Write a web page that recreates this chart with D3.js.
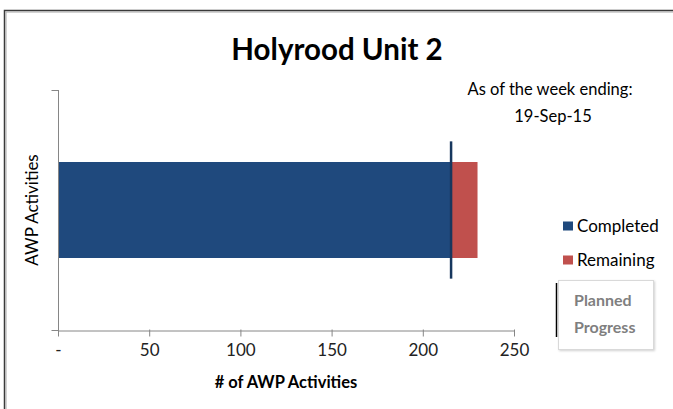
<!DOCTYPE html>
<html>
<head>
<meta charset="utf-8">
<script src="https://cdn.jsdelivr.net/npm/d3@7.9.0/dist/d3.min.js"></script>
<style>
  body { margin: 0; background: #fff; }
  svg { display: block; font-family: Lato, "Open Sans", sans-serif; }
</style>
</head>
<body>
<script>
// Chart values
const categories = ["AWP Activities"];
const completed = [216];
const remaining = [14];
const planned = [215.5];
const xTicks = [0, 50, 100, 150, 200, 250];
const seriesNames = ["Completed", "Remaining"];
const seriesColors = ["#1F497D", "#C0504D"];
const titleText = "Holyrood Unit 2";
const weekLabel = "As of the week ending:";
const weekDate = "19-Sep-15";

const width = 673, height = 409;
const margin = { top: 90, right: 159, bottom: 79, left: 58 };

const svg = d3.select("body").append("svg")
  .attr("width", width)
  .attr("height", height);

// Outer frame
svg.append("rect")
  .attr("x", 4.5).attr("y", 10.5)
  .attr("width", 720).attr("height", 450)
  .attr("fill", "#fff")
  .attr("stroke", "#3a3a3a").attr("stroke-width", 1.5);
svg.append("path")
  .attr("d", "M6,460V12H720")
  .attr("fill", "none")
  .attr("stroke", "#a6a6a6").attr("stroke-width", 1);

const x = d3.scaleLinear()
  .domain([0, 250])
  .range([margin.left, width - margin.right]);

const y = d3.scaleBand()
  .domain(categories)
  .range([margin.top, height - margin.bottom])
  .paddingInner(0)
  .paddingOuter(0.75);

// Title
svg.append("text")
  .attr("x", 337).attr("y", 60)
  .attr("text-anchor", "middle")
  .attr("font-size", 29.5).attr("font-weight", "bold")
  .text(titleText);

svg.append("text")
  .attr("x", 550).attr("y", 95)
  .attr("text-anchor", "middle")
  .attr("font-size", 16.5)
  .text(weekLabel);
svg.append("text")
  .attr("x", 553).attr("y", 122)
  .attr("text-anchor", "middle")
  .attr("font-size", 16.5)
  .text(weekDate);

// Bars
const stack = categories.map((c, i) => ({ cat: c, parts: [[0, completed[i]], [completed[i], completed[i] + remaining[i]]] }));
stack.forEach(d => {
  d.parts.forEach((p, j) => {
    svg.append("rect")
      .attr("x", x(p[0]))
      .attr("y", y(d.cat))
      .attr("width", x(p[1]) - x(p[0]))
      .attr("height", y.bandwidth())
      .attr("fill", seriesColors[j]);
  });
});

// Planned progress marker
categories.forEach((c, i) => {
  const cy = y(c) + y.bandwidth() / 2;
  svg.append("line")
    .attr("x1", x(planned[i])).attr("x2", x(planned[i]))
    .attr("y1", cy - y.bandwidth() * 0.715)
    .attr("y2", cy + y.bandwidth() * 0.715)
    .attr("stroke", "#17375E").attr("stroke-width", 2.5);
});

// X axis
const xAxis = svg.append("g")
  .attr("transform", `translate(0,${height - margin.bottom + 0.5})`)
  .call(d3.axisBottom(x).tickValues(xTicks).tickSize(6).tickSizeOuter(0)
    .tickFormat(d => d === 0 ? "-" : d));
xAxis.select(".domain").attr("stroke", "#868686");
xAxis.selectAll(".tick line").attr("stroke", "#868686").attr("y1", -1);
xAxis.selectAll(".tick text")
  .attr("y", 20).attr("dy", "0.32em")
  .attr("font-size", 17).attr("font-family", "Lato, sans-serif").attr("fill", "#222");

// Y axis (category boundaries)
const yAxis = svg.append("g")
  .attr("transform", `translate(${margin.left + 0.5},0)`);
yAxis.append("line")
  .attr("y1", margin.top).attr("y2", height - margin.bottom + 6)
  .attr("stroke", "#868686");
[margin.top, height - margin.bottom].forEach(v => {
  yAxis.append("line")
    .attr("x1", -7).attr("x2", 0)
    .attr("y1", v + 0.5).attr("y2", v + 0.5)
    .attr("stroke", "#868686");
});

// Axis titles
svg.append("text")
  .attr("x", (x(0) + x(250)) / 2).attr("y", 388)
  .attr("text-anchor", "middle")
  .attr("font-size", 16.5).attr("font-weight", "bold")
  .text("# of AWP Activities");
svg.append("text")
  .attr("transform", `translate(38,${(margin.top + height - margin.bottom) / 2}) rotate(-90)`)
  .attr("text-anchor", "middle")
  .attr("font-size", 17)
  .text(categories[0]);

// Legend
const legend = svg.append("g");
seriesNames.forEach((name, i) => {
  const ly = 226 + i * 34;
  legend.append("rect")
    .attr("x", 563).attr("y", ly - 4.5)
    .attr("width", 10).attr("height", 9)
    .attr("fill", seriesColors[i]);
  legend.append("text")
    .attr("x", 577).attr("y", ly).attr("dy", "0.35em")
    .attr("font-size", 17)
    .text(name);
});

// Planned progress callout
const defs = svg.append("defs");
const f = defs.append("filter").attr("id", "shadow").attr("x", "-10%").attr("y", "-10%").attr("width", "130%").attr("height", "130%");
f.append("feDropShadow").attr("dx", 1).attr("dy", 1).attr("stdDeviation", 1).attr("flood-color", "#000").attr("flood-opacity", 0.18);
svg.append("rect")
  .attr("x", 558.5).attr("y", 280.5)
  .attr("width", 95).attr("height", 69)
  .attr("fill", "#fff").attr("stroke", "#d9d9d9")
  .attr("filter", "url(#shadow)");
svg.append("line")
  .attr("x1", 556.5).attr("x2", 556.5)
  .attr("y1", 283).attr("y2", 337)
  .attr("stroke", "#000").attr("stroke-width", 1.5);
["Planned", "Progress"].forEach((t, i) => {
  svg.append("text")
    .attr("x", 574).attr("y", 300 + i * 27).attr("dy", "0.35em")
    .attr("font-size", 16).attr("font-weight", "bold")
    .attr("fill", "#7f7f7f")
    .text(t);
});
</script>
</body>
</html>
